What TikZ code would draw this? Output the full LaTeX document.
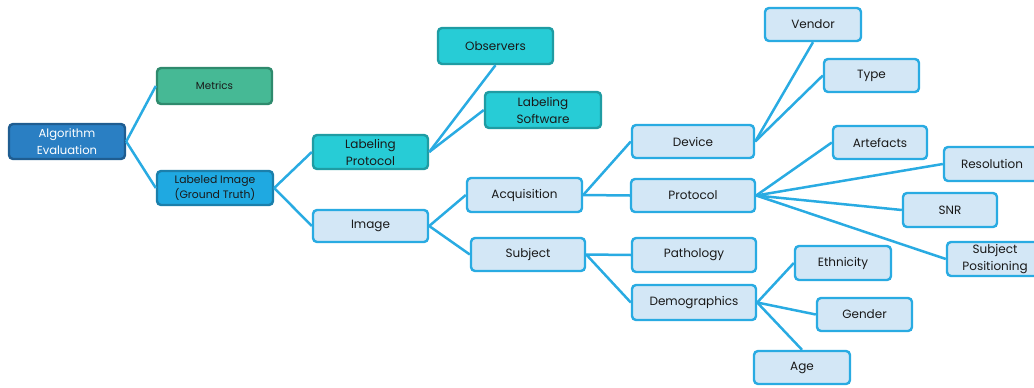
\documentclass[tikz,border=0pt]{standalone}
\usepackage{fontspec}
\setmainfont{Poppins}
\definecolor{lien}{HTML}{29ABE2}
\definecolor{clair}{HTML}{D3E7F6}
\definecolor{fonce}{HTML}{2A7FC3}
\definecolor{foncebord}{HTML}{1F5D91}
\definecolor{vert}{HTML}{46B995}
\definecolor{vertbord}{HTML}{2F8A6D}
\definecolor{bleu}{HTML}{1FA9E1}
\definecolor{bleubord}{HTML}{1B7FAB}
\definecolor{turq}{HTML}{27CCD6}
\definecolor{turqbord}{HTML}{1F9CA3}
\begin{document}
\begin{tikzpicture}[x=1pt, y=-1pt]
	\tikzset{boite/.style={draw=lien, fill=clair, line width=2.4pt, rounded corners=4pt, align=center, text=black!90, font=\fontsize{12}{17}\selectfont, inner sep=1pt, minimum height=33pt},
		racine/.style={boite, draw=foncebord, fill=fonce, text=white},
		metrique/.style={boite, draw=vertbord, fill=vert, font=\fontsize{10.3}{15.5}\selectfont},
		etiquette/.style={boite, draw=bleubord, fill=bleu, font=\fontsize{10.8}{15.5}\selectfont},
		turquoise/.style={boite, draw=turqbord, fill=turq},
		fil/.style={draw=lien, line width=2.5pt}};
	\useasboundingbox (0,0) rectangle (1034,388);

	\node[racine, minimum width=116pt, minimum height=35pt, font=\fontsize{11.6}{17}\selectfont] (algo) at (67, 141.5) {Algorithm\\Evaluation};
	\node[metrique, minimum width=115pt, minimum height=36pt] (metrics) at (214.5, 86) {Metrics};
	\node[etiquette, minimum width=116pt, minimum height=34pt] (labeled) at (215, 188) {Labeled Image\\(Ground Truth)};
	\node[turquoise, minimum width=115pt, minimum height=34pt] (protlab) at (370.5, 152) {Labeling\\Protocol};
	\node[turquoise, minimum width=115pt, minimum height=36pt] (observers) at (495.5, 46) {Observers};
	\node[turquoise, minimum width=116pt, minimum height=36pt] (software) at (543, 110) {Labeling\\Software};
	\node[boite, minimum width=115pt, minimum height=32pt] (image) at (370.5, 226) {Image};
	\node[boite, minimum width=115pt, minimum height=34pt] (acq) at (524.5, 195) {Acquisition};
	\node[boite, minimum width=114pt, minimum height=33pt] (subject) at (528, 254.5) {Subject};
	\node[boite, minimum width=122pt] (device) at (693, 141.5) {Device};
	\node[boite, minimum width=124pt] (protocol) at (693, 195.5) {Protocol};
	\node[boite, minimum width=96pt] (vendor) at (813, 24.5) {Vendor};
	\node[boite, minimum width=95pt] (type) at (871.5, 75.5) {Type};
	\node[boite, minimum width=94pt] (artefacts) at (880, 142.5) {Artefacts};
	\node[boite, minimum width=96pt, minimum height=34pt] (resolution) at (992, 164) {Resolution};
	\node[boite, minimum width=94pt, minimum height=34pt] (snr) at (950, 210) {SNR};
	\node[boite, minimum width=96pt, minimum height=34pt] (subjpos) at (995, 259) {Subject\\Positioning};
	\node[boite, minimum width=124pt, minimum height=34pt] (pathology) at (694, 255) {Pathology};
	\node[boite, minimum width=124pt, minimum height=35pt] (demog) at (694, 302.5) {Demographics};
	\node[boite, minimum width=96pt, minimum height=34pt] (ethnicity) at (843, 263) {Ethnicity};
	\node[boite, minimum width=95pt] (gender) at (864.5, 314.5) {Gender};
	\node[boite, minimum width=96pt] (age) at (802, 367.5) {Age};

	\draw[fil] (algo.east) -- (metrics.west);
	\draw[fil] (algo.east) -- (labeled.west);
	\draw[fil] (labeled.east) -- (protlab.west);
	\draw[fil] (labeled.east) -- (image.west);
	\draw[fil] (protlab.east) -- (observers.south);
	\draw[fil] (protlab.east) -- (software.west);
	\draw[fil] (image.east) -- (acq.west);
	\draw[fil] (image.east) -- (subject.west);
	\draw[fil] (acq.east) -- (device.west);
	\draw[fil] (acq.east) -- (protocol.west);
	\draw[fil] (subject.east) -- (pathology.west);
	\draw[fil] (subject.east) -- (demog.west);
	\draw[fil] (device.east) -- (vendor.south);
	\draw[fil] (device.east) -- (type.west);
	\draw[fil] (protocol.east) -- (artefacts.west);
	\draw[fil] (protocol.east) -- (resolution.west);
	\draw[fil] (protocol.east) -- (snr.west);
	\draw[fil] (protocol.east) -- (subjpos.west);
	\draw[fil] (demog.east) -- (ethnicity.west);
	\draw[fil] (demog.east) -- (gender.west);
	\draw[fil] (demog.east) -- (age.north);
\end{tikzpicture}
\end{document}
